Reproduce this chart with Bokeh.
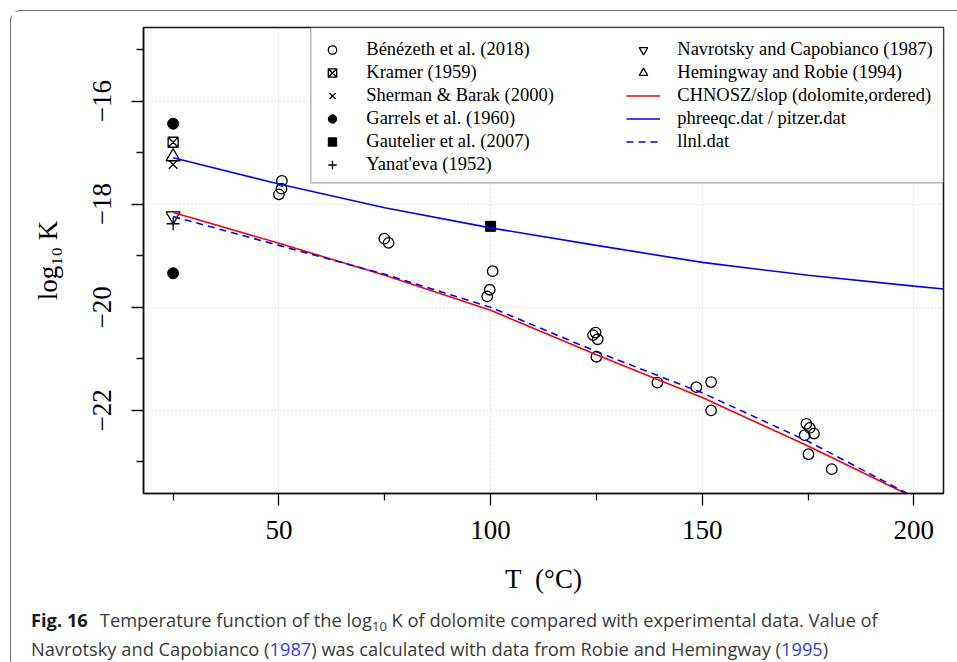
from bokeh.plotting import figure
from bokeh.models import Range1d, FixedTicker, Legend, LegendItem, BoxAnnotation, Div, Spacer
from bokeh.layouts import column, row
from bokeh.embed import file_html
from bokeh.resources import INLINE

# ---------------- data ----------------
benezeth_T = [50.7, 50.6, 50.0, 74.9, 75.9, 100.5, 99.8, 99.2, 124.8, 124.2, 125.3, 125.0,
              139.4, 148.6, 152.1, 152.1, 174.6, 175.4, 176.4, 174.2, 175.1, 180.6]
benezeth_logK = [-17.55, -17.70, -17.81, -18.67, -18.75, -19.30, -19.66, -19.79, -20.49, -20.54,
                 -20.62, -20.96, -21.46, -21.55, -21.45, -22.00, -22.26, -22.34, -22.45, -22.48,
                 -22.85, -23.14]
kramer_T = [25]
kramer_logK = [-16.80]
sherman_T = [25]
sherman_logK = [-17.23]
garrels_T = [25, 25]
garrels_logK = [-16.44, -19.34]
gautelier_T = [100]
gautelier_logK = [-18.43]
yanateva_T = [25]
yanateva_logK = [-18.38]
navrotsky_T = [25]
navrotsky_logK = [-18.23]
hemingway_T = [25]
hemingway_logK = [-17.08]

curve_T = [25, 50, 75, 100, 125, 150, 175, 200]
chnosz_logK = [-18.16, -18.76, -19.38, -20.06, -20.92, -21.75, -22.69, -23.69]
llnl_logK = [-18.24, -18.80, -19.36, -20.00, -20.86, -21.66, -22.60, -23.68]
phreeqc_T = [25, 50, 75, 100, 125, 150, 175, 200, 210]
phreeqc_logK = [-17.10, -17.61, -18.07, -18.46, -18.80, -19.13, -19.38, -19.59, -19.67]

x_major = [50, 100, 150, 200]
x_minor = [25, 75, 125, 175]
y_major = [-22, -20, -18, -16]
y_minor = [-23, -21, -19, -17, -15]
y_labels = {-22: "\u221222", -20: "\u221220", -18: "\u221218", -16: "\u221216"}

legend_labels = ["Bénézeth et al. (2018)", "Kramer (1959)", "Sherman & Barak (2000)",
                 "Garrels et al. (1960)", "Gautelier et al. (2007)", "Yanat'eva (1952)",
                 "Navrotsky and Capobianco (1987)", "Hemingway and Robie (1994)",
                 "CHNOSZ/slop (dolomite,ordered)", "phreeqc.dat / pitzer.dat", "llnl.dat"]

# ---------------- layout constants (page pixels) ----------------
BOX_X, BOX_Y, BW = 10, 10, 1.5
OX, OY = BOX_X + BW, BOX_Y + BW          # canvas origin on the page
W, H = 944, 594
CAP_H = 54
FL, FR, FT, FB = 144, 943, 27, 494       # frame edges on the page


def sx(px):
    return px - FL


def sy(py):
    return FB - py


SERIF = "Liberation Serif"

p = figure(width=W, height=H, title=None,
           x_range=Range1d(18, 207), y_range=Range1d(-23.612, -14.574),
           output_backend="svg", toolbar_location=None,
           min_border_left=round(FL - OX), min_border_right=round(W - (FR - OX)),
           min_border_top=round(FT - OY), min_border_bottom=round(H - (FB - OY)))
p.background_fill_color = "white"
p.border_fill_color = "white"
p.outline_line_color = "#111111"
p.outline_line_width = 1.5

p.xaxis.ticker = FixedTicker(ticks=x_major, minor_ticks=x_minor)
p.yaxis.ticker = FixedTicker(ticks=y_major, minor_ticks=y_minor)
p.yaxis.major_label_overrides = y_labels
p.yaxis.major_label_orientation = "vertical"
for ax in (p.xaxis[0], p.yaxis[0]):
    ax.axis_line_color = "#111111"
    ax.axis_line_width = 1.5
    ax.major_tick_out = 12
    ax.major_tick_in = 0
    ax.minor_tick_out = 7
    ax.minor_tick_in = 0
    ax.major_tick_line_color = "#111111"
    ax.minor_tick_line_color = "#111111"
    ax.major_tick_line_width = 1.3
    ax.minor_tick_line_width = 1.3
    ax.major_label_text_font = SERIF
    ax.major_label_text_font_size = "27px"
    ax.major_label_text_color = "black"
    ax.axis_label_text_font = SERIF
    ax.axis_label_text_font_size = "27px"
    ax.axis_label_text_font_style = "normal"
    ax.axis_label_text_color = "black"
p.xaxis.major_label_standoff = 15
p.yaxis.major_label_standoff = 20
p.xaxis.axis_label = "T\u00a0\u00a0(°C)"
p.xaxis.axis_label_standoff = 22
p.yaxis.axis_label = "log\u2081\u2080 K"
p.yaxis.axis_label_standoff = 28

for g in (p.xgrid[0], p.ygrid[0]):
    g.grid_line_color = "#c4c4c4"
    g.grid_line_dash = "1 3"
    g.grid_line_width = 1

# ---------------- glyphs ----------------
r_ben = p.scatter(benezeth_T, benezeth_logK, marker="circle", size=10.5,
                  fill_color=None, line_color="black", line_width=1.3)
r_kra = p.scatter(kramer_T, kramer_logK, marker="square_x", size=10,
                  fill_color=None, line_color="black", line_width=1.3)
r_she = p.scatter(sherman_T, sherman_logK, marker="x", size=12,
                  line_color="black", line_width=1.3)
r_gar = p.scatter(garrels_T, garrels_logK, marker="circle", size=11,
                  fill_color="black", line_color="black")
r_gau = p.scatter(gautelier_T, gautelier_logK, marker="square", size=10,
                  fill_color="black", line_color="black")
r_yan = p.scatter(yanateva_T, yanateva_logK, marker="cross", size=13,
                  line_color="black", line_width=1.3)
r_nav = p.scatter(navrotsky_T, navrotsky_logK, marker="inverted_triangle", size=14,
                  fill_color=None, line_color="black", line_width=1.3)
r_hem = p.scatter(hemingway_T, hemingway_logK, marker="triangle", size=14,
                  fill_color=None, line_color="black", line_width=1.3)

r_chn = p.line(curve_T, chnosz_logK, line_color="#ff0000", line_width=1.6)
r_phr = p.line(phreeqc_T, phreeqc_logK, line_color="#0000ff", line_width=1.6)
r_lln = p.line(curve_T, llnl_logK, line_color="#0000ff", line_width=1.6, line_dash="7 5")

# ---------------- legend ----------------
legend_box = BoxAnnotation(left=sx(311.3), left_units="screen",
                           bottom=sy(183.3), bottom_units="screen",
                           right=207, top=-14.574,
                           fill_color="white", fill_alpha=1.0,
                           line_color="#111111", line_width=1.5)
p.add_layout(legend_box)

renderers = [r_ben, r_kra, r_she, r_gar, r_gau, r_yan, r_nav, r_hem, r_chn, r_phr, r_lln]
items = [LegendItem(label=lab, renderers=[r]) for lab, r in zip(legend_labels, renderers)]
ROW_H, ROW_GAP = 21, 2
leg_top = 50.5 - ROW_H / 2
leg_bottom = leg_top + 6 * ROW_H + 5 * ROW_GAP
legend = Legend(items=items, ncols=2, location=(sx(316.3), sy(leg_bottom)),
                padding=0, spacing=ROW_GAP, margin=0,
                glyph_width=34, glyph_height=ROW_H, label_height=ROW_H,
                label_width=258, label_standoff=17,
                label_text_font=SERIF, label_text_font_size="18.5px",
                label_text_color="black",
                border_line_color=None, background_fill_alpha=0.0)
p.add_layout(legend)

# ---------------- caption ----------------
caption_html = (
    '<div style="font-family:\'Open Sans\';font-size:18.3px;line-height:26.6px;'
    'color:#3a3a3a;white-space:nowrap;margin-top:-3px;padding-left:15px;">'
    '<b style="color:#1a1a1a;margin-right:12px;">Fig. 16</b>'
    'Temperature function of the log'
    '<span style="font-size:13px;position:relative;top:4px;">10</span>'
    ' K of dolomite compared with experimental data. Value of<br>'
    'Navrotsky and Capobianco (<span style="color:#3340e6;">1987</span>) was calculated '
    'with data from Robie and Hemingway (<span style="color:#3340e6;">1995</span>)'
    '</div>'
)
caption = Div(text=caption_html, width=W, height=CAP_H)

boxed = column(p, caption, styles={
    "border-left": f"{BW}px solid #707070",
    "border-top": f"{BW}px solid #707070",
    "border-bottom": f"{BW}px solid #707070",
    "border-top-left-radius": "11px",
    "border-bottom-left-radius": "11px",
})
page = row(Spacer(width=BOX_X, height=10), column(Spacer(width=10, height=BOX_Y), boxed))

open("out.html", "w").write(file_html(page, INLINE))
